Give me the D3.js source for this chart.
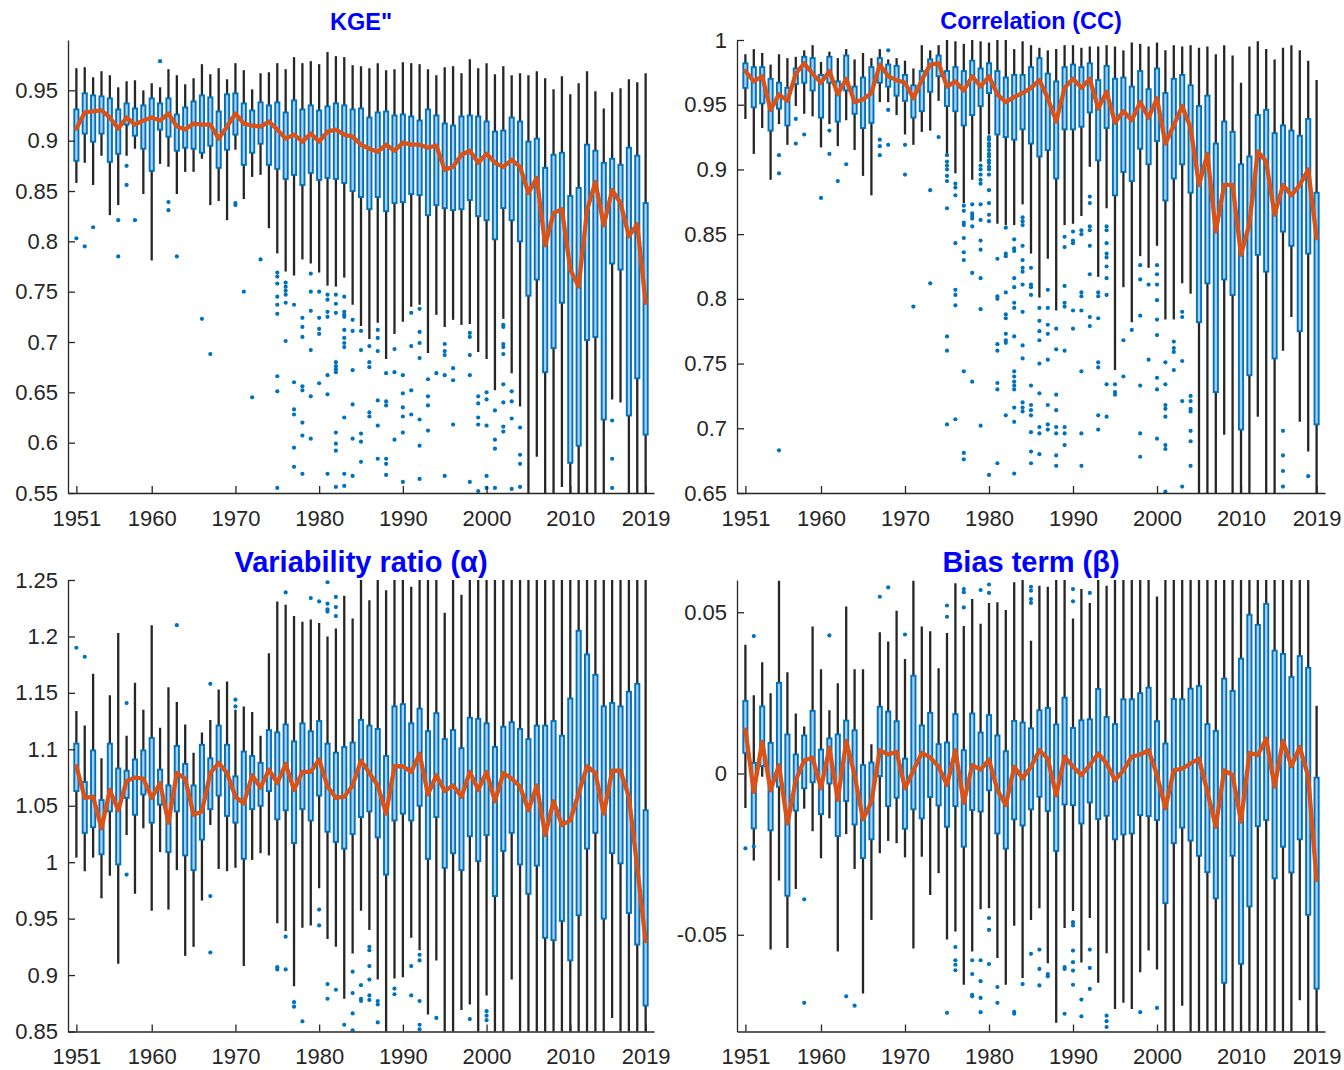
<!DOCTYPE html>
<html>
<head>
<meta charset="utf-8">
<script src="https://cdn.jsdelivr.net/npm/d3@7"></script>
<style>
  body { margin: 0; background: #fff; }
  svg { display: block; font-family: "Liberation Sans", Arial, Helvetica, sans-serif; }
</style>
</head>
<body>
<svg id="chart" width="1344" height="1070"></svg>
<script>
// ---------- categories ----------
const years = [1951,1952,1953,1954,1955,1956,1957,1958,1959,1960,
  1961,1962,1963,1964,1965,1966,1967,1968,1969,1970,
  1971,1972,1973,1974,1975,1976,1977,1978,1979,1980,
  1981,1982,1983,1984,1985,1986,1987,1988,1989,1990,
  1991,1992,1993,1994,1995,1996,1997,1998,1999,2000,
  2001,2002,2003,2004,2005,2006,2007,2008,2009,2010,
  2011,2012,2013,2014,2015,2016,2017,2018,2019];
const xTicks = [1951, 1960, 1970, 1980, 1990, 2000, 2010, 2019];

// ---------- KGE" ----------
const kgeMed = [0.912,0.928,0.929,0.930,0.923,0.912,0.923,0.916,0.920,0.923,
  0.920,0.927,0.914,0.911,0.917,0.916,0.916,0.902,0.914,0.927,
  0.917,0.915,0.914,0.919,0.911,0.902,0.906,0.899,0.907,0.899,
  0.909,0.911,0.906,0.904,0.896,0.892,0.889,0.896,0.890,0.898,
  0.896,0.896,0.893,0.895,0.871,0.874,0.886,0.890,0.878,0.887,
  0.878,0.874,0.881,0.874,0.848,0.863,0.796,0.828,0.832,0.772,
  0.755,0.831,0.859,0.816,0.851,0.838,0.805,0.817,0.739];
const kgeQ1 = [0.880,0.907,0.899,0.907,0.879,0.887,0.916,0.905,0.892,0.870,
  0.911,0.904,0.890,0.893,0.892,0.888,0.895,0.873,0.891,0.906,
  0.876,0.888,0.897,0.876,0.872,0.862,0.866,0.856,0.868,0.861,
  0.863,0.862,0.858,0.850,0.844,0.832,0.844,0.830,0.838,0.839,
  0.847,0.846,0.826,0.836,0.833,0.831,0.832,0.841,0.825,0.821,
  0.802,0.833,0.821,0.800,0.746,0.762,0.670,0.694,0.739,0.580,
  0.597,0.702,0.705,0.623,0.778,0.772,0.627,0.664,0.608];
const kgeQ3 = [0.931,0.947,0.945,0.944,0.942,0.931,0.937,0.932,0.935,0.942,
  0.937,0.942,0.926,0.933,0.939,0.945,0.943,0.929,0.946,0.947,
  0.937,0.930,0.938,0.935,0.938,0.928,0.940,0.931,0.935,0.930,
  0.934,0.937,0.935,0.931,0.932,0.923,0.928,0.929,0.925,0.926,
  0.924,0.920,0.931,0.925,0.917,0.915,0.924,0.925,0.924,0.919,
  0.909,0.910,0.923,0.919,0.899,0.902,0.873,0.886,0.888,0.845,
  0.853,0.896,0.890,0.878,0.882,0.876,0.893,0.885,0.838];
const kgeLo = [0.858,0.878,0.856,0.885,0.826,0.836,0.885,0.892,0.847,0.781,
  0.877,0.874,0.847,0.869,0.869,0.882,0.836,0.840,0.821,0.891,
  0.842,0.864,0.866,0.813,0.788,0.770,0.766,0.782,0.778,0.769,
  0.756,0.755,0.764,0.737,0.716,0.703,0.719,0.683,0.708,0.720,
  0.735,0.737,0.689,0.727,0.715,0.722,0.717,0.718,0.690,0.683,
  0.652,0.723,0.669,0.636,0.500,0.586,0.500,0.500,0.556,0.500,
  0.500,0.500,0.500,0.500,0.643,0.640,0.500,0.500,0.500];
const kgeHi = [0.972,0.973,0.963,0.969,0.965,0.953,0.959,0.960,0.950,0.957,
  0.953,0.971,0.965,0.956,0.962,0.976,0.966,0.972,0.961,0.977,
  0.970,0.951,0.967,0.968,0.977,0.971,0.983,0.977,0.979,0.976,
  0.988,0.984,0.983,0.975,0.974,0.972,0.977,0.970,0.971,0.978,
  0.977,0.976,0.971,0.965,0.973,0.974,0.967,0.981,0.972,0.977,
  0.966,0.974,0.965,0.967,0.965,0.969,0.962,0.951,0.964,0.946,
  0.957,0.969,0.949,0.932,0.948,0.952,0.961,0.958,0.967];
const kgeOutliers = [
  [1951,[0.803]],[1952,[0.795]],[1953,[0.814]],[1956,[0.821,0.785]],[1957,[0.875,0.856]],
  [1958,[0.821]],[1961,[0.979]],[1962,[0.839,0.831]],[1963,[0.785]],[1966,[0.723]],
  [1967,[0.688]],[1970,[0.838,0.836]],[1971,[0.750]],[1972,[0.645]],[1973,[0.782]],
  [1975,[0.769,0.765,0.758,0.745,0.737,0.728,0.666,0.651,0.555]],
  [1976,[0.759,0.755,0.751,0.747,0.739,0.701]],
  [1977,[0.737,0.660,0.633,0.628,0.595,0.576]],
  [1978,[0.724,0.715,0.705,0.656,0.652,0.620,0.607,0.569]],
  [1979,[0.768,0.750,0.731,0.692,0.646,0.604]],
  [1980,[0.750,0.724,0.713,0.708,0.659]],
  [1981,[0.747,0.742,0.730,0.725,0.667,0.648,0.569]],
  [1982,[0.747,0.738,0.729,0.680,0.676,0.673,0.670,0.610,0.599,0.592,0.556]],
  [1983,[0.745,0.730,0.727,0.725,0.712,0.704,0.699,0.695,0.625,0.569,0.557]],
  [1984,[0.722,0.711,0.672,0.638,0.604,0.567]],
  [1985,[0.711,0.692,0.609,0.601,0.581]],
  [1986,[0.696,0.680,0.675,0.630,0.626]],
  [1987,[0.712,0.704,0.691,0.642,0.617,0.584]],
  [1988,[0.669,0.641,0.637,0.584,0.579,0.568]],
  [1989,[0.693,0.670,0.603]],
  [1990,[0.667,0.649,0.635,0.626,0.610,0.561]],
  [1991,[0.729,0.696,0.652,0.628]],
  [1992,[0.733,0.710,0.699,0.684,0.623,0.597,0.564]],
  [1993,[0.663,0.646,0.637,0.612]],
  [1994,[0.669]],
  [1995,[0.698,0.691,0.687,0.667,0.567]],
  [1996,[0.674,0.662,0.618]],
  [1998,[0.709,0.705,0.687,0.667,0.561]],
  [1999,[0.646,0.639,0.625,0.618,0.552]],
  [2000,[0.650,0.643,0.617,0.567,0.555]],
  [2001,[0.632,0.603,0.594,0.555]],
  [2002,[0.717,0.715,0.698,0.695,0.688,0.658,0.640,0.616,0.611]],
  [2003,[0.651,0.641,0.624,0.554]],
  [2004,[0.615,0.588,0.579,0.556]],
  [2015,[0.622,0.584,0.555]]
];
const kgeTicks = [0.55,0.6,0.65,0.7,0.75,0.8,0.85,0.9,0.95];

// ---------- Correlation (CC) ----------
const ccMed = [0.976,0.968,0.972,0.946,0.958,0.953,0.974,0.982,0.974,0.967,
  0.976,0.958,0.970,0.952,0.954,0.959,0.981,0.972,0.969,0.967,
  0.955,0.969,0.981,0.982,0.964,0.968,0.961,0.972,0.964,0.972,
  0.958,0.952,0.956,0.959,0.963,0.969,0.955,0.937,0.963,0.970,
  0.963,0.970,0.947,0.960,0.936,0.945,0.938,0.952,0.940,0.955,
  0.920,0.934,0.949,0.932,0.888,0.912,0.852,0.888,0.888,0.834,
  0.858,0.914,0.906,0.865,0.888,0.880,0.888,0.900,0.847];
const ccQ1 = [0.963,0.948,0.951,0.930,0.947,0.934,0.966,0.967,0.961,0.940,
  0.967,0.937,0.961,0.943,0.932,0.936,0.967,0.964,0.957,0.953,
  0.940,0.945,0.960,0.972,0.949,0.945,0.934,0.942,0.949,0.959,
  0.927,0.925,0.923,0.931,0.920,0.910,0.915,0.893,0.931,0.931,
  0.933,0.944,0.907,0.932,0.880,0.898,0.891,0.916,0.904,0.922,
  0.876,0.893,0.904,0.882,0.782,0.812,0.728,0.815,0.803,0.699,
  0.741,0.834,0.821,0.754,0.852,0.841,0.775,0.835,0.703];
const ccQ3 = [0.982,0.979,0.979,0.970,0.967,0.963,0.978,0.987,0.986,0.973,
  0.987,0.968,0.988,0.964,0.971,0.979,0.986,0.981,0.980,0.973,
  0.965,0.976,0.985,0.988,0.976,0.979,0.976,0.984,0.978,0.982,
  0.976,0.971,0.973,0.973,0.979,0.986,0.974,0.968,0.979,0.981,
  0.979,0.982,0.969,0.980,0.970,0.971,0.964,0.976,0.962,0.978,
  0.959,0.970,0.973,0.965,0.949,0.957,0.920,0.937,0.929,0.904,
  0.910,0.942,0.946,0.928,0.934,0.930,0.926,0.939,0.882];
const ccLo = [0.939,0.912,0.932,0.892,0.935,0.919,0.949,0.943,0.941,0.917,
  0.935,0.918,0.938,0.915,0.895,0.880,0.952,0.952,0.942,0.927,
  0.919,0.929,0.930,0.953,0.912,0.897,0.874,0.892,0.906,0.927,
  0.858,0.857,0.857,0.873,0.835,0.801,0.831,0.791,0.857,0.858,
  0.864,0.902,0.817,0.870,0.745,0.809,0.782,0.833,0.824,0.841,
  0.784,0.784,0.812,0.804,0.600,0.600,0.600,0.695,0.600,0.600,
  0.600,0.709,0.600,0.600,0.760,0.786,0.705,0.682,0.600];
const ccHi = [0.989,0.993,0.990,0.981,0.989,0.986,0.987,0.992,0.996,0.983,
  0.991,0.986,0.993,0.985,0.990,0.986,0.993,0.985,0.986,0.984,
  0.978,0.996,0.992,0.996,1.000,0.999,0.997,1.000,0.999,0.998,
  1.000,1.000,0.993,0.999,0.996,0.994,0.992,0.993,0.996,0.996,
  0.994,0.995,0.995,0.996,0.995,0.992,0.998,0.997,0.995,0.998,
  0.992,0.996,0.995,0.996,0.994,0.995,0.989,0.996,0.988,0.967,
  0.995,0.999,0.993,0.985,0.994,0.996,0.992,0.984,0.969];
const ccOutliers = [
  [1955,[0.911,0.897,0.683]],[1957,[0.939,0.920]],[1958,[0.927]],[1960,[0.878]],
  [1961,[0.930,0.912]],[1962,[0.891]],[1963,[0.904]],[1967,[0.923,0.918,0.911]],
  [1968,[0.992,0.946,0.919]],[1970,[0.919,0.896]],[1971,[0.794]],[1973,[0.884,0.812]],
  [1974,[0.925]],
  [1975,[0.911,0.906,0.903,0.900,0.895,0.891,0.870,0.771,0.760,0.703]],
  [1976,[0.889,0.886,0.880,0.843,0.807,0.803,0.795,0.707]],
  [1977,[0.872,0.868,0.859,0.857,0.847,0.836,0.830,0.744,0.681,0.676]],
  [1978,[0.873,0.866,0.864,0.862,0.856,0.820,0.736]],
  [1979,[0.903,0.900,0.896,0.892,0.889,0.873,0.861,0.845,0.838,0.816,0.792,0.702]],
  [1980,[0.925,0.923,0.920,0.918,0.915,0.912,0.910,0.907,0.905,0.902,0.900,0.896,0.884,0.874,0.865,0.860,0.664]],
  [1981,[0.831,0.802,0.800,0.765,0.760,0.735,0.730,0.673]],
  [1982,[0.855,0.835,0.833,0.805,0.788,0.785,0.773,0.768,0.766,0.710]],
  [1983,[0.846,0.839,0.837,0.816,0.809,0.797,0.793,0.771,0.744,0.740,0.736,0.733,0.730,0.716,0.705,0.665]],
  [1984,[0.863,0.860,0.857,0.841,0.830,0.824,0.821,0.811,0.790,0.764,0.754,0.720,0.716,0.713]],
  [1985,[0.824,0.811,0.809,0.803,0.733,0.718,0.714,0.710,0.697,0.682,0.673]],
  [1986,[0.793,0.783,0.775,0.768,0.750,0.727,0.701,0.696,0.680]],
  [1987,[0.807,0.793,0.780,0.773,0.753,0.718,0.703,0.699]],
  [1988,[0.777,0.761,0.726,0.714,0.701,0.696,0.679,0.671]],
  [1989,[0.848,0.840,0.810,0.797,0.794,0.760,0.701,0.696,0.687]],
  [1990,[0.852,0.845,0.843,0.791,0.777]],
  [1991,[0.853,0.850,0.805,0.802,0.791,0.744,0.696,0.671]],
  [1992,[0.879,0.874,0.856,0.853,0.841,0.819,0.786,0.779]],
  [1993,[0.805,0.802,0.785,0.751,0.747,0.710,0.699]],
  [1994,[0.856,0.853,0.843,0.835,0.832,0.825,0.816,0.803,0.734,0.709]],
  [1995,[0.734,0.728,0.726]],
  [1996,[0.768,0.740]],
  [1997,[0.776]],
  [1998,[0.826,0.815,0.787,0.733,0.696,0.678]],
  [1999,[0.811,0.753]],
  [2000,[0.826,0.819,0.811,0.799,0.784,0.772,0.739,0.730,0.692]],
  [2001,[0.751,0.734,0.718,0.715,0.709,0.687,0.684,0.651]],
  [2002,[0.767,0.762,0.759,0.745]],
  [2003,[0.790,0.786,0.752,0.721,0.655]],
  [2004,[0.725,0.721,0.715,0.713,0.698,0.690,0.671]],
  [2015,[0.698,0.679,0.667,0.655]],
  [2018,[0.663]]
];
const ccTicks = [0.65,0.7,0.75,0.8,0.85,0.9,0.95,1];

// ---------- Variability ratio (alpha) ----------
const alphaMed = [1.085,1.057,1.058,1.030,1.064,1.046,1.072,1.075,1.074,1.057,
  1.070,1.035,1.079,1.074,1.042,1.045,1.079,1.088,1.079,1.058,
  1.052,1.077,1.066,1.082,1.070,1.087,1.064,1.080,1.080,1.091,
  1.067,1.057,1.058,1.068,1.090,1.079,1.068,1.043,1.085,1.085,
  1.080,1.096,1.060,1.077,1.063,1.068,1.058,1.080,1.064,1.080,
  1.054,1.079,1.074,1.067,1.046,1.068,1.024,1.054,1.033,1.037,
  1.061,1.085,1.079,1.043,1.081,1.081,1.058,0.995,0.930];
const alphaQ1 = [1.063,1.026,1.031,1.007,1.045,0.998,1.057,1.042,1.060,1.035,
  1.051,1.009,1.045,1.006,0.993,1.020,1.047,1.059,1.041,1.035,
  1.003,1.047,1.050,1.063,1.038,1.046,1.017,1.047,1.037,1.059,
  1.027,1.018,1.012,1.025,1.040,1.045,1.022,0.989,1.037,1.043,
  1.037,1.050,1.003,1.040,0.995,1.008,0.993,1.023,1.001,1.024,
  0.970,1.010,1.026,0.998,0.972,0.997,0.933,0.931,0.948,0.913,
  0.953,1.012,1.026,0.950,1.008,0.999,0.955,0.927,0.873];
const alphaQ3 = [1.105,1.071,1.099,1.055,1.105,1.083,1.081,1.091,1.099,1.110,
  1.082,1.068,1.103,1.087,1.068,1.104,1.092,1.121,1.104,1.076,
  1.098,1.094,1.088,1.117,1.115,1.122,1.107,1.123,1.116,1.125,
  1.105,1.097,1.102,1.106,1.126,1.121,1.118,1.094,1.138,1.140,
  1.123,1.136,1.116,1.132,1.109,1.117,1.101,1.128,1.127,1.123,
  1.102,1.120,1.124,1.118,1.109,1.121,1.121,1.125,1.112,1.145,
  1.205,1.184,1.166,1.138,1.141,1.138,1.151,1.158,1.046];
const alphaLo = [1.004,0.992,1.004,0.968,0.988,0.910,1.024,0.972,1.030,0.957,
  1.009,0.958,0.993,0.917,0.925,0.966,1.033,0.994,0.992,0.995,
  0.908,1.002,1.008,1.006,0.946,0.939,0.890,0.942,0.944,0.977,
  0.932,0.925,0.879,0.919,0.957,0.940,0.896,0.800,0.897,0.898,
  0.933,0.922,0.865,0.913,0.800,0.800,0.869,0.874,0.800,0.882,
  0.800,0.800,0.896,0.800,0.800,0.800,0.800,0.800,0.800,0.800,
  0.800,0.800,0.800,0.800,0.862,0.800,0.800,0.800,0.800];
const alphaHi = [1.134,1.121,1.167,1.092,1.148,1.203,1.112,1.159,1.135,1.210,
  1.119,1.155,1.142,1.122,1.097,1.115,1.126,1.153,1.160,1.135,
  1.138,1.133,1.112,1.185,1.231,1.228,1.218,1.213,1.215,1.212,
  1.200,1.207,1.236,1.216,1.300,1.232,1.300,1.241,1.300,1.300,
  1.244,1.300,1.300,1.300,1.221,1.300,1.237,1.300,1.300,1.300,
  1.300,1.300,1.300,1.300,1.300,1.300,1.300,1.300,1.300,1.300,
  1.300,1.300,1.300,1.300,1.300,1.300,1.300,1.300,1.300];
const alphaOutliers = [
  [1951,[1.190]],[1952,[1.182]],[1957,[1.141,0.989]],[1963,[1.210]],
  [1967,[1.158,0.970,0.920]],[1970,[1.144,1.138]],[1975,[0.907,0.905]],
  [1976,[1.239,0.934,0.905]],[1977,[0.876,0.872]],[1978,[0.859]],[1979,[1.234]],
  [1980,[1.231,0.958,0.944]],[1981,[1.248,1.229,1.224,1.222,0.892,0.879]],
  [1982,[1.235,1.226,1.218,0.887]],[1983,[0.856]],[1984,[0.903,0.884,0.866,0.851]],
  [1985,[0.891,0.879,0.877]],[1986,[0.925,0.922,0.908,0.896,0.882,0.878]],
  [1987,[0.877,0.874,0.858]],[1989,[0.888,0.883]],[1991,[0.908,0.882]],
  [1992,[0.918,0.913,0.877,0.856,0.852]],[1994,[0.862]],[1998,[0.861]],
  [2000,[0.868,0.864,0.860]]
];
const alphaTicks = [0.85,0.9,0.95,1,1.05,1.1,1.15,1.2,1.25];

// ---------- Bias term (beta) ----------
const betaMed = [0.0136,-0.0057,0.0098,-0.0052,0.0026,-0.0155,-0.0021,0.0041,0.0049,-0.0046,
  0.0080,-0.0082,0.0101,-0.0005,-0.0142,-0.0088,0.0072,0.0059,0.0067,-0.0046,
  0.0010,0.0064,0.0050,0.0021,-0.0036,0.0072,-0.0091,0.0026,0.0012,0.0043,
  -0.0052,-0.0098,0.0021,-0.0015,0.0021,0.0072,0.0046,-0.0068,0.0052,0.0021,
  -0.0005,0.0026,0.0062,0.0031,-0.0021,0.0010,0.0052,0.0059,0.0072,-0.0005,
  -0.0108,0.0010,0.0015,0.0031,0.0046,-0.0057,-0.0165,0.0010,-0.0005,-0.0149,
  0.0064,0.0057,0.0108,-0.0041,0.0101,0.0023,0.0082,-0.0010,-0.0330];
const betaQ1 = [0.0064,-0.0170,0.0023,-0.0176,-0.0041,-0.0379,-0.0115,-0.0046,-0.0027,-0.0126,
  -0.0031,-0.0194,-0.0085,-0.0158,-0.0262,-0.0204,-0.0008,-0.0101,-0.0075,-0.0171,
  -0.0111,-0.0139,-0.0073,-0.0099,-0.0165,-0.0101,-0.0227,-0.0113,-0.0118,-0.0052,
  -0.0186,-0.0233,-0.0142,-0.0161,-0.0111,-0.0072,-0.0116,-0.0240,-0.0096,-0.0098,
  -0.0155,-0.0090,-0.0141,-0.0131,-0.0204,-0.0189,-0.0186,-0.0129,-0.0132,-0.0144,
  -0.0402,-0.0216,-0.0168,-0.0208,-0.0255,-0.0306,-0.0387,-0.0649,-0.0255,-0.0590,
  -0.0412,-0.0163,-0.0144,-0.0325,-0.0227,-0.0307,-0.0204,-0.0438,-0.0667];
const betaQ3 = [0.0225,0.0033,0.0208,0.0095,0.0281,0.0121,0.0059,0.0118,0.0194,0.0074,
  0.0109,0.0121,0.0164,0.0134,0.0026,0.0034,0.0207,0.0192,0.0162,0.0046,
  0.0303,0.0149,0.0188,0.0091,0.0096,0.0184,0.0072,0.0186,0.0127,0.0181,
  0.0118,0.0069,0.0163,0.0158,0.0140,0.0196,0.0203,0.0152,0.0235,0.0141,
  0.0165,0.0168,0.0262,0.0175,0.0153,0.0230,0.0230,0.0249,0.0266,0.0162,
  0.0093,0.0231,0.0230,0.0263,0.0271,0.0153,0.0132,0.0294,0.0256,0.0356,
  0.0492,0.0461,0.0526,0.0381,0.0371,0.0299,0.0364,0.0328,-0.0013];
const betaLo = [-0.0107,-0.0270,-0.0010,-0.0546,-0.0332,-0.0541,-0.0358,-0.0109,-0.0179,-0.0263,
  -0.0139,-0.0552,-0.0188,-0.0296,-0.0682,-0.0454,-0.0247,-0.0209,-0.0216,-0.0260,
  -0.0543,-0.0258,-0.0377,-0.0309,-0.0515,-0.0490,-0.0655,-0.0552,-0.0421,-0.0418,
  -0.0572,-0.0655,-0.0472,-0.0634,-0.0454,-0.0418,-0.0588,-0.0773,-0.0479,-0.0426,
  -0.0586,-0.0448,-0.0649,-0.0557,-0.0730,-0.0711,-0.0730,-0.0616,-0.0549,-0.0608,
  -0.0900,-0.0900,-0.0720,-0.0900,-0.0900,-0.0900,-0.0900,-0.0900,-0.0900,-0.0900,
  -0.0900,-0.0900,-0.0900,-0.0900,-0.0900,-0.0900,-0.0703,-0.0900,-0.0900];
const betaHi = [0.0399,0.0243,0.0345,0.0249,0.0598,0.0314,0.0186,0.0146,0.0456,0.0323,
  0.0196,0.0280,0.0518,0.0323,0.0323,0.0091,0.0438,0.0409,0.0505,0.0355,
  0.0598,0.0456,0.0441,0.0326,0.0436,0.0590,0.0457,0.0541,0.0464,0.0529,
  0.0531,0.0507,0.0593,0.0650,0.0412,0.0582,0.0579,0.0650,0.0650,0.0481,
  0.0572,0.0529,0.0650,0.0582,0.0650,0.0650,0.0650,0.0650,0.0650,0.0549,
  0.0650,0.0650,0.0650,0.0650,0.0650,0.0650,0.0650,0.0650,0.0650,0.0650,
  0.0650,0.0650,0.0650,0.0650,0.0650,0.0650,0.0650,0.0650,0.0210];
const betaOutliers = [
  [1951,[-0.0232]],[1952,[0.0426,-0.0226]],[1958,[-0.0390,-0.0711]],[1961,[0.0428]],
  [1963,[-0.0691]],[1964,[-0.0720]],[1967,[0.0548]],[1968,[0.0577]],[1970,[0.0431]],
  [1975,[0.0521,0.0486,-0.0742]],[1976,[-0.0538,-0.0579,-0.0593,-0.0610]],
  [1977,[0.0572,0.0562,0.0515]],[1978,[-0.0579,-0.0622,-0.0686,-0.0691]],
  [1979,[0.0569,-0.0579,-0.0644,-0.0696,-0.0740]],[1980,[0.0586,0.0560,-0.0448,-0.0485,-0.0591]],
  [1981,[-0.0662,-0.0711]],[1983,[-0.0739,-0.0745]],[1984,[-0.0653]],
  [1985,[0.0579,0.0567,0.0541,0.0529,-0.0559]],[1986,[-0.0546,-0.0606,-0.0657]],
  [1987,[-0.0622,-0.0629]],[1989,[-0.0600,-0.0606,-0.0745]],
  [1990,[0.0572,0.0534,-0.0461,-0.0471,-0.0549,-0.0585,-0.0611,-0.0655]],
  [1991,[-0.0701,-0.0753]],[1992,[0.0560,-0.0546,-0.0603,-0.0668]],
  [1994,[-0.0751,-0.0768,-0.0786]],[1998,[-0.0740]],[2000,[-0.0727]]
];
const betaTicks = [-0.05,0,0.05];

// ---------- layout ----------
const panels = [
  { title: 'KGE"', titleSize: 23.5, titleY: 30,
    med: kgeMed, q1: kgeQ1, q3: kgeQ3, lo: kgeLo, hi: kgeHi, out: kgeOutliers,
    domain: [0.55, 1.0], ticks: kgeTicks, left: 68, right: 654, top: 40, bottom: 493 },
  { title: 'Correlation (CC)', titleSize: 23.5, titleY: 29,
    med: ccMed, q1: ccQ1, q3: ccQ3, lo: ccLo, hi: ccHi, out: ccOutliers,
    domain: [0.65, 1.0], ticks: ccTicks, left: 737, right: 1325, top: 40, bottom: 493 },
  { title: 'Variability ratio (\u03b1)', titleSize: 29, titleY: 572,
    med: alphaMed, q1: alphaQ1, q3: alphaQ3, lo: alphaLo, hi: alphaHi, out: alphaOutliers,
    domain: [0.85, 1.25], ticks: alphaTicks, left: 68, right: 654, top: 580, bottom: 1031.5 },
  { title: 'Bias term (\u03b2)', titleSize: 29, titleY: 572,
    med: betaMed, q1: betaQ1, q3: betaQ3, lo: betaLo, hi: betaHi, out: betaOutliers,
    domain: [-0.08, 0.06], ticks: betaTicks, left: 737, right: 1325, top: 580, bottom: 1031.5 }
];

const axisColor = '#262626';
const boxColor = '#0072BD';
const medColor = '#D95319';
const tickFont = 22;

const svg = d3.select('#chart');
const defs = svg.append('defs');

panels.forEach((p, i) => {
  const x = d3.scaleLinear().domain([1950, 2020]).range([p.left, p.right]);
  const y = d3.scaleLinear().domain(p.domain).range([p.bottom, p.top]);
  const g = svg.append('g').attr('class', 'panel');

  defs.append('clipPath').attr('id', 'plot-clip-' + i)
    .append('rect')
    .attr('x', p.left).attr('y', p.top)
    .attr('width', p.right - p.left).attr('height', p.bottom - p.top);

  const plot = g.append('g').attr('clip-path', `url(#plot-clip-${i})`);

  // whiskers
  plot.append('g').selectAll('line').data(years).join('line')
    .attr('x1', d => x(d)).attr('x2', d => x(d))
    .attr('y1', (d, j) => y(p.lo[j])).attr('y2', (d, j) => y(p.hi[j]))
    .attr('stroke', axisColor).attr('stroke-width', 2.3);

  // boxes (interquartile range)
  const bw = 4.2;
  plot.append('g').selectAll('rect').data(years).join('rect')
    .attr('x', d => x(d) - bw / 2).attr('width', bw)
    .attr('y', (d, j) => y(p.q3[j]))
    .attr('height', (d, j) => y(p.q1[j]) - y(p.q3[j]))
    .attr('fill', '#a9d0ee').attr('stroke', boxColor).attr('stroke-width', 1.9);

  // outliers
  const pts = p.out.flatMap(([yr, vals]) => vals.map(v => [yr, v]));
  plot.append('g').selectAll('circle').data(pts).join('circle')
    .attr('cx', d => x(d[0])).attr('cy', d => y(d[1])).attr('r', 2.1)
    .attr('fill', boxColor);

  // median line
  g.append('path').datum(years)
    .attr('d', d3.line().x(d => x(d)).y((d, j) => y(p.med[j])))
    .attr('fill', 'none').attr('stroke', medColor).attr('stroke-width', 4.3)
    .attr('stroke-linejoin', 'round').attr('stroke-linecap', 'round');

  // axes
  const fmt = d => String(+d.toFixed(2));
  const xAxis = g.append('g').attr('transform', `translate(0,${p.bottom})`)
    .call(d3.axisBottom(x).tickValues(xTicks).tickFormat(d => String(d))
      .tickSizeInner(-7).tickSizeOuter(0).tickPadding(17));
  const yAxis = g.append('g').attr('transform', `translate(${p.left},0)`)
    .call(d3.axisLeft(y).tickValues(p.ticks).tickFormat(fmt)
      .tickSizeInner(-7).tickSizeOuter(0).tickPadding(10));
  [xAxis, yAxis].forEach(a => {
    a.select('.domain').attr('stroke', axisColor).attr('stroke-width', 1.3);
    a.selectAll('.tick line').attr('stroke', axisColor).attr('stroke-width', 1.3);
    a.selectAll('.tick text').attr('fill', axisColor)
      .style('font-size', tickFont + 'px')
      .style('font-family', '"Liberation Sans", Arial, sans-serif');
  });

  // title
  g.append('text')
    .attr('x', (p.left + p.right) / 2).attr('y', p.titleY)
    .attr('text-anchor', 'middle')
    .attr('fill', '#0000FF').attr('font-weight', 'bold')
    .style('font-size', p.titleSize + 'px')
    .text(p.title);
});
</script>
</body>
</html>
